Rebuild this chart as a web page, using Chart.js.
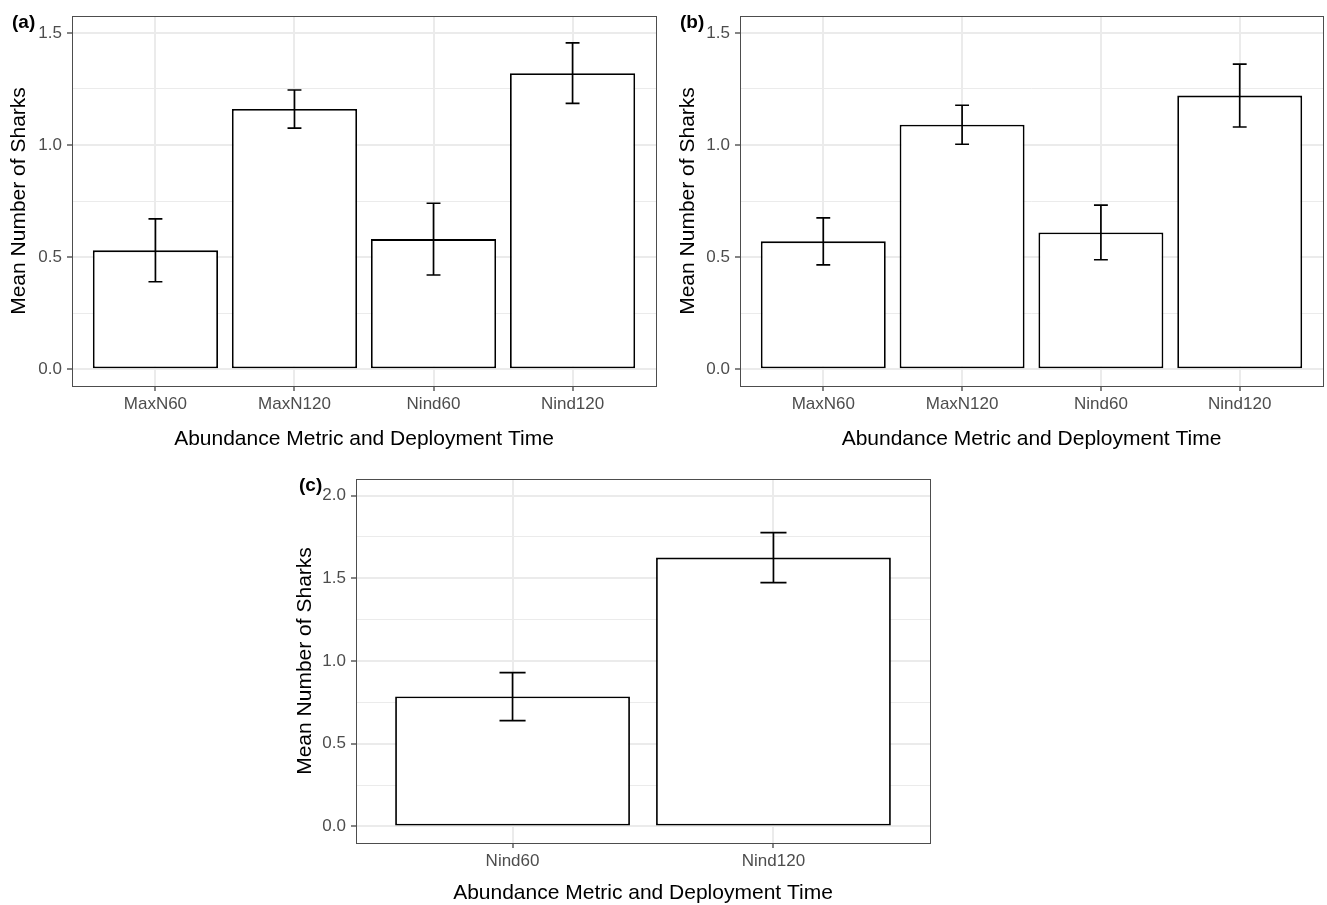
<!DOCTYPE html>
<html>
<head>
<meta charset="utf-8">
<script src="https://cdn.jsdelivr.net/npm/chart.js@4"></script>
<style>
  body { margin: 0; background: #fff; }
  #wrap { position: relative; width: 1327px; height: 905px; overflow: hidden; }
  canvas { position: absolute; }
  .tag { position: absolute; font: bold 19px "Liberation Sans", Arial, sans-serif; color: #000; }
</style>
</head>
<body>
<div id="wrap">
  <canvas id="chartA" width="663" height="455" style="left:0;top:0"></canvas>
  <canvas id="chartB" width="664" height="455" style="left:663px;top:0"></canvas>
  <canvas id="chartC" width="660" height="446" style="left:280px;top:462px"></canvas>
  <div class="tag" style="left:12px;top:11px">(a)</div>
  <div class="tag" style="left:680px;top:11px">(b)</div>
  <div class="tag" style="left:299px;top:474px">(c)</div>
</div>
<script>
// data
const categoriesAB = ["MaxN60", "MaxN120", "Nind60", "Nind120"];
const meanA = [0.53, 1.16, 0.58, 1.32];
const errA = [0.14, 0.085, 0.16, 0.135];
const meanB = [0.57, 1.09, 0.61, 1.22];
const errB = [0.105, 0.087, 0.122, 0.14];

const categoriesC = ["Nind60", "Nind120"];
const meanC = [0.785, 1.625];
const errC = [0.145, 0.151];

const yMajorAB = [0, 0.5, 1.0, 1.5];
const yMinorAB = [0.25, 0.75, 1.25];
const yMajorC = [0, 0.5, 1.0, 1.5, 2.0];
const yMinorC = [0.25, 0.75, 1.25, 1.75];

const xTitle = "Abundance Metric and Deployment Time";
const yTitle = "Mean Number of Sharks";

Chart.defaults.font.family = '"Liberation Sans", Arial, sans-serif';

// mean +/- error, caps 0.1 category wide
const errorBars = {
  id: "errorBars",
  afterDatasetsDraw(chart, args, opts) {
    const { ctx } = chart;
    const x = chart.scales.x, y = chart.scales.y;
    const half = x.getPixelForValue(0.05) - x.getPixelForValue(0);
    ctx.save();
    ctx.strokeStyle = "#000";
    ctx.lineWidth = 1.7;
    opts.means.forEach((m, i) => {
      const px = x.getPixelForValue(i);
      const hi = y.getPixelForValue(m + opts.errs[i]);
      const lo = y.getPixelForValue(m - opts.errs[i]);
      ctx.beginPath();
      ctx.moveTo(px, hi); ctx.lineTo(px, lo);
      ctx.moveTo(px - half, hi); ctx.lineTo(px + half, hi);
      ctx.moveTo(px - half, lo); ctx.lineTo(px + half, lo);
      ctx.stroke();
    });
    ctx.restore();
  }
};

const panelBorder = {
  id: "panelBorder",
  afterDraw(chart) {
    const { ctx, chartArea: a } = chart;
    ctx.save();
    ctx.strokeStyle = "#4d4d4d";
    ctx.lineWidth = 1;
    ctx.strokeRect(Math.round(a.left) + 0.5, Math.round(a.top) + 0.5, Math.round(a.right - a.left), Math.round(a.bottom - a.top));
    ctx.restore();
  }
};

function makeChart(id, cats, means, errs, yMajor, yMinor, yMax, lay) {
  const yTicks = yMajor.concat(yMinor).sort((a, b) => a - b);
  const isMajor = v => yMajor.includes(v);
  return new Chart(document.getElementById(id), {
    type: "bar",
    data: {
      datasets: [{
        data: means.map((v, i) => ({ x: i, y: v })),
        backgroundColor: "#fff",
        borderColor: "#000",
        borderWidth: 1.8,
        borderSkipped: false,
        barPercentage: 0.9,
        categoryPercentage: 1
      }]
    },
    options: {
      responsive: false,
      animation: false,
      layout: { padding: { left: 0, right: lay.right, top: lay.top, bottom: 0 } },
      plugins: {
        legend: { display: false },
        tooltip: { enabled: false },
        errorBars: { means: means, errs: errs }
      },
      scales: {
        x: {
          type: "linear",
          offset: false,
          min: -0.6,
          max: cats.length - 1 + 0.6,
          afterBuildTicks: s => { s.ticks = cats.map((c, i) => ({ value: i })); },
          afterFit: s => { s.height = lay.xh; s.paddingLeft = 0; s.paddingRight = 0; },
          ticks: { callback: v => cats[v], color: "#4D4D4D", font: { size: 17 }, padding: 3, maxRotation: 0, autoSkip: false },
          grid: { offset: false, color: "#EBEBEB", lineWidth: 2, tickColor: "#333", tickLength: 5, tickWidth: 1.2 },
          border: { display: false },
          title: { display: true, text: xTitle, color: "#000", font: { size: 21 }, padding: { top: 0, bottom: lay.xtp } }
        },
        y: {
          min: -0.05 * yMax,
          max: 1.05 * yMax,
          afterBuildTicks: s => { s.ticks = yTicks.map(v => ({ value: v })); },
          afterFit: s => { s.width = lay.yw; s.paddingTop = 0; s.paddingBottom = 0; },
          ticks: { callback: v => isMajor(v) ? v.toFixed(1) : "", color: "#4D4D4D", font: { size: 17 }, padding: 5 },
          grid: {
            color: "#EBEBEB",
            lineWidth: c => (c.tick && isMajor(c.tick.value)) ? 2 : 1,
            tickColor: c => (c.tick && isMajor(c.tick.value)) ? "#333" : "rgba(0,0,0,0)",
            tickLength: 5,
            tickWidth: 1.2
          },
          border: { display: false },
          title: { display: true, text: yTitle, color: "#000", font: { size: 21 }, padding: { top: lay.ytp, bottom: 0 } }
        }
      }
    },
    plugins: [errorBars, panelBorder]
  });
}

makeChart("chartA", categoriesAB, meanA, errA, yMajorAB, yMinorAB, 1.5,
  { right: 7, top: 16, xh: 69, yw: 72, ytp: 6.4, xtp: 3.4 });
makeChart("chartB", categoriesAB, meanB, errB, yMajorAB, yMinorAB, 1.5,
  { right: 4, top: 16, xh: 69, yw: 77, ytp: 12.4, xtp: 3.4 });
makeChart("chartC", categoriesC, meanC, errC, yMajorC, yMinorC, 2.0,
  { right: 10, top: 17, xh: 65, yw: 76, ytp: 12.4, xtp: 2 });
</script>
</body>
</html>
